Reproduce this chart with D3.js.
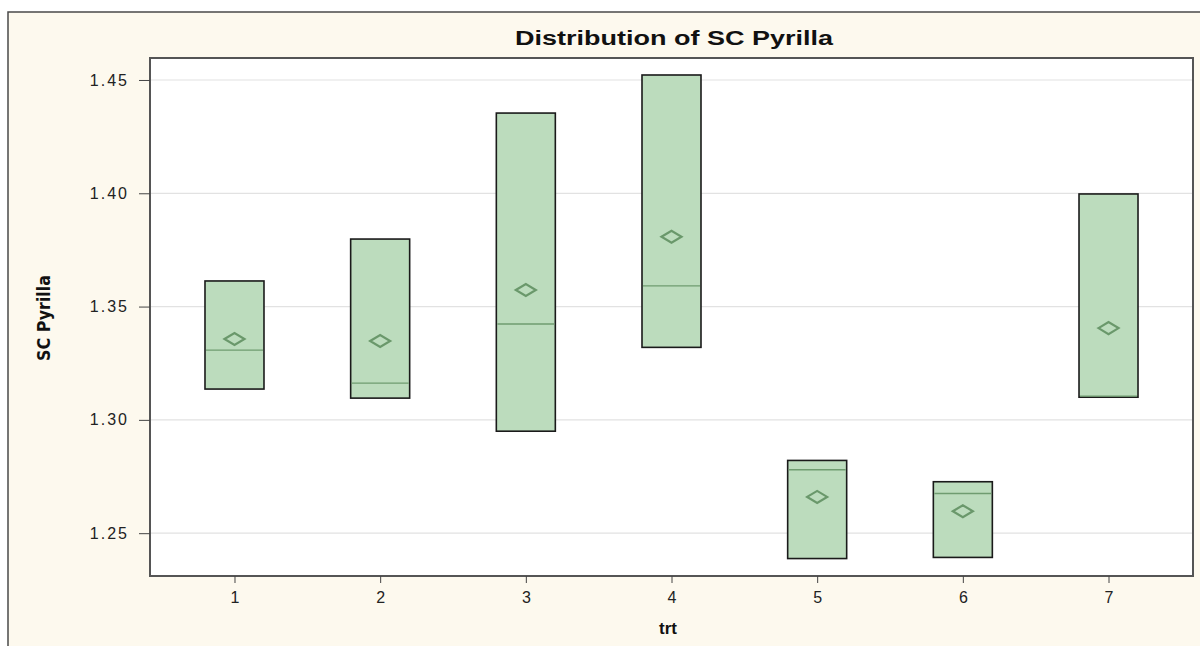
<!DOCTYPE html>
<html>
<head>
<meta charset="utf-8">
<script src="https://cdn.jsdelivr.net/npm/d3@7"></script>
<style>
  html, body { margin: 0; padding: 0; background: #ffffff; }
  svg { display: block; }
</style>
</head>
<body>
<svg id="chart" width="1200" height="646"></svg>
<script>
// ---- data ----
const categories = ["1", "2", "3", "4", "5", "6", "7"];
const q1Values     = [1.3136, 1.3096, 1.2950, 1.3320, 1.2388, 1.2393, 1.3100];
const q3Values     = [1.3613, 1.3798, 1.4354, 1.4522, 1.2821, 1.2727, 1.3997];
const medianValues = [1.3308, 1.3162, 1.3423, 1.3591, 1.2780, 1.2675, 1.3105];
const meanValues   = [1.3357, 1.3348, 1.3573, 1.3808, 1.2660, 1.2597, 1.3405];
const yTicks = [1.25, 1.30, 1.35, 1.40, 1.45];
const titleText = "Distribution of SC Pyrilla";
const xLabel = "trt";
const yLabel = "SC Pyrilla";

const data = categories.map((c, i) => ({
  cat: c, q1: q1Values[i], q3: q3Values[i], med: medianValues[i], mean: meanValues[i]
}));

const svg = d3.select("#chart");
const W = 1200, H = 646;
const plot = { left: 150, right: 1193, top: 58, bottom: 576 };

// outer cream panel
svg.append("rect").attr("x", 8).attr("y", 12).attr("width", W - 8 + 5).attr("height", H - 12 + 5)
  .attr("fill", "#fdf9ee").attr("stroke", "#4a4a4a").attr("stroke-width", 1.5);

const x = d3.scalePoint().domain(categories).range([plot.left, plot.right]).padding(0.58);
const y = d3.scaleLinear().domain([1.2311, 1.4597]).range([plot.bottom, plot.top]);

// plot background
svg.append("rect").attr("x", plot.left).attr("y", plot.top)
  .attr("width", plot.right - plot.left).attr("height", plot.bottom - plot.top)
  .attr("fill", "#ffffff");

// gridlines
svg.append("g").selectAll("line").data(yTicks).join("line")
  .attr("x1", plot.left).attr("x2", plot.right)
  .attr("y1", d => y(d)).attr("y2", d => y(d))
  .attr("stroke", "#e2e2e2").attr("stroke-width", 1.2);

// boxes
const boxW = 59;
const g = svg.append("g");
g.selectAll("rect.box").data(data).join("rect").attr("class", "box")
  .attr("x", d => x(d.cat) - boxW / 2).attr("width", boxW)
  .attr("y", d => y(d.q3)).attr("height", d => y(d.q1) - y(d.q3))
  .attr("fill", "#bcdcbd").attr("stroke", "#1a1a1a").attr("stroke-width", 1.6);

g.selectAll("line.med").data(data).join("line").attr("class", "med")
  .attr("x1", d => x(d.cat) - boxW / 2 + 1).attr("x2", d => x(d.cat) + boxW / 2 - 1)
  .attr("y1", d => y(d.med)).attr("y2", d => y(d.med))
  .attr("stroke", "#6f9c70").attr("stroke-width", 1.3);

g.selectAll("path.mean").data(data).join("path").attr("class", "mean")
  .attr("d", d => {
    const cx = x(d.cat), cy = y(d.mean);
    return `M${cx - 10},${cy} L${cx},${cy - 6} L${cx + 10},${cy} L${cx},${cy + 6} Z`;
  })
  .attr("fill", "none").attr("stroke", "#6a986b").attr("stroke-width", 2.2);

// plot frame
svg.append("rect").attr("x", plot.left).attr("y", plot.top)
  .attr("width", plot.right - plot.left).attr("height", plot.bottom - plot.top)
  .attr("fill", "none").attr("stroke", "#555555").attr("stroke-width", 2);

// y axis
const yAxis = svg.append("g").attr("transform", `translate(${plot.left},0)`)
  .call(d3.axisLeft(y).tickValues(yTicks).tickFormat(d3.format(".2f")).tickSize(11).tickPadding(10));
yAxis.select(".domain").remove();
yAxis.selectAll(".tick line").attr("stroke", "#444").attr("stroke-width", 1);
yAxis.selectAll(".tick text").attr("fill", "#222")
  .style("font-family", "Liberation Sans, Arial, sans-serif").style("font-size", "16px")
  .style("letter-spacing", "2px");

// x axis
const xAxis = svg.append("g").attr("transform", `translate(0,${plot.bottom})`)
  .call(d3.axisBottom(x).tickSize(7).tickPadding(9));
xAxis.select(".domain").remove();
xAxis.selectAll(".tick line").attr("stroke", "#444").attr("stroke-width", 1);
xAxis.selectAll(".tick text").attr("fill", "#222")
  .style("font-family", "Liberation Sans, Arial, sans-serif").style("font-size", "16px");

// title
svg.append("text").attr("x", 674).attr("y", 45).attr("text-anchor", "middle")
  .attr("textLength", 318).attr("lengthAdjust", "spacingAndGlyphs")
  .style("font-family", "Liberation Sans, Arial, sans-serif").style("font-weight", "bold")
  .style("font-size", "20px").attr("fill", "#111").text(titleText);

// x label
svg.append("text").attr("x", 668).attr("y", 634).attr("text-anchor", "middle")
  .style("font-family", "Liberation Sans, Arial, sans-serif").style("font-weight", "bold")
  .style("font-size", "17px").attr("fill", "#111").text(xLabel);

// y label
svg.append("text").attr("transform", "translate(50,318) rotate(-90)").attr("text-anchor", "middle")
  .attr("textLength", 86).attr("lengthAdjust", "spacingAndGlyphs")
  .style("font-family", "DejaVu Sans Condensed, DejaVu Sans, sans-serif").style("font-weight", "bold")
  .style("font-size", "18px").attr("fill", "#111").text(yLabel);
</script>
</body>
</html>
